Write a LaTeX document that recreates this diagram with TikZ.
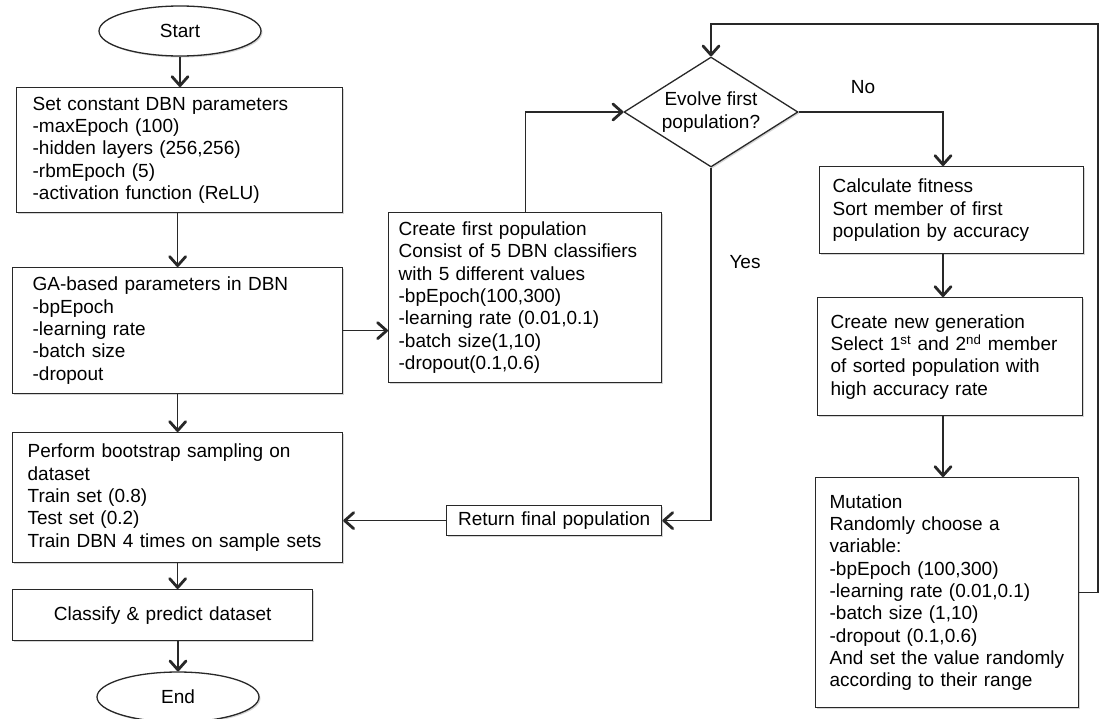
\documentclass[tikz,border=0pt]{standalone}
\usepackage{fontspec}
\setmainfont{Liberation Sans}
\usepackage{tikz}
\usetikzlibrary{shapes.geometric, arrows.meta, positioning, calc, shadows}
\definecolor{linedark}{RGB}{40,40,40}
\definecolor{shadegray}{RGB}{150,150,150}
\newcommand{\chartfont}{\fontsize{19}{22.3}\selectfont}
\tikzset{
  block/.style={rectangle, draw=linedark, fill=white, anchor=north west,
    align=left, font=\chartfont, inner ysep=0pt, line width=1.3pt,
    drop shadow={shadow xshift=1.5pt, shadow yshift=-1.5pt, opacity=0.4, fill=shadegray}},
  term/.style={ellipse, draw=linedark, fill=white, minimum width=162pt,
    minimum height=50pt, font=\chartfont, line width=1.3pt, inner sep=0pt,
    drop shadow={shadow xshift=1.5pt, shadow yshift=-1.5pt, opacity=0.4, fill=shadegray}},
  decision/.style={diamond, draw=linedark, fill=white, aspect=1.58,
    minimum width=174pt, minimum height=110pt, inner sep=0pt, align=center,
    font=\chartfont, line width=1.3pt,
    drop shadow={shadow xshift=1.5pt, shadow yshift=-1.5pt, opacity=0.4, fill=shadegray}},
  flowlabel/.style={font=\chartfont, inner sep=0pt},
  arrow/.style={-{Straight Barb[length=9pt, width=16pt, line width=2.8pt, round]},
    line width=1.3pt, draw=linedark},
  line/.style={line width=1.3pt, draw=linedark}
}
\begin{document}
\begin{tikzpicture}[x=1pt, y=-1pt]
  \useasboundingbox (0,0) rectangle (1099,718);
  % left column
  \node[term] (start) at (180,31) {Start};
  \node[block, text width=294pt, inner xsep=16pt, minimum height=125pt] (consts) at (16,87)
    {Set constant DBN parameters\\-maxEpoch (100)\\-hidden layers (256,256)\\-rbmEpoch (5)\\-activation function (ReLU)};
  \node[block, text width=290pt, inner xsep=20pt, minimum height=126pt] (gaparams) at (12,267)
    {GA-based parameters in DBN\\-bpEpoch\\-learning rate\\-batch size\\-dropout};
  \node[block, text width=300pt, inner xsep=15pt, minimum height=130pt] (bootstrap) at (12,432)
    {Perform bootstrap sampling on\\dataset\\Train set (0.8)\\Test set (0.2)\\Train DBN 4 times on sample sets};
  \node[block, align=center, text width=280pt, inner xsep=10pt, minimum height=51pt] (classify) at (12,589)
    {Classify \& predict dataset};
  \node[term] (stop) at (178,697) {End};
  % GA loop
  \node[block, text width=253pt, inner xsep=10pt, minimum height=170pt] (firstpop) at (388,212)
    {Create first population\\Consist of 5 DBN classifiers\\with 5 different values\\-bpEpoch(100,300)\\-learning rate (0.01,0.1)\\-batch size(1,10)\\-dropout(0.1,0.6)};
  \node[decision] (evolve) at (711,112) {Evolve first\\population?};
  \node[block, align=center, text width=195pt, inner xsep=10pt, minimum height=30pt] (finalpop) at (446,505)
    {Return final population};
  \node[block, text width=238pt, inner xsep=13pt, minimum height=87pt] (fitness) at (819,166)
    {Calculate fitness\\Sort member of first\\population by accuracy};
  \node[block, text width=239pt, inner xsep=13pt, minimum height=118pt] (newgen) at (817,297)
    {Create new generation\\Select 1\textsuperscript{st} and 2\textsuperscript{nd} member\\of sorted population with\\high accuracy rate};
  \node[block, text width=235pt, inner xsep=14pt, minimum height=230pt] (mutation) at (815,477)
    {Mutation\\Randomly choose a\\variable:\\-bpEpoch (100,300)\\-learning rate (0.01,0.1)\\-batch size (1,10)\\-dropout (0.1,0.6)\\And set the value randomly\\according to their range};
  \node[flowlabel] (lblno) at (863,87) {No};
  \node[flowlabel] (lblyes) at (745,262) {Yes};
  \coordinate (rcol) at (943,0);
  \coordinate (loopcorner) at (1098,24);
  % connectors
  \draw[arrow] (start) -- (consts.north -| start);
  \draw[arrow] (consts.south -| gaparams.north) -- (gaparams.north);
  \draw[arrow] (gaparams) -- (bootstrap);
  \draw[arrow] (bootstrap.south) -- (bootstrap.south |- classify.north);
  \draw[arrow] (classify.south -| stop) -- (stop);
  \draw[arrow] (gaparams.east) -- (gaparams.east -| firstpop.west);
  \draw[arrow] (firstpop.north) |- (evolve.west);
  \draw[arrow] (evolve.east) -| (rcol |- fitness.north);
  \draw[arrow] (rcol |- fitness.south) -- (rcol |- newgen.north);
  \draw[arrow] (rcol |- newgen.south) -- (rcol |- mutation.north);
  \draw[arrow] (mutation.east) -| (loopcorner) -| (evolve.north);
  \draw[arrow] (evolve.south) |- (finalpop.east);
  \draw[arrow] (finalpop.west) -- (finalpop.west -| bootstrap.east);
\end{tikzpicture}
\end{document}
